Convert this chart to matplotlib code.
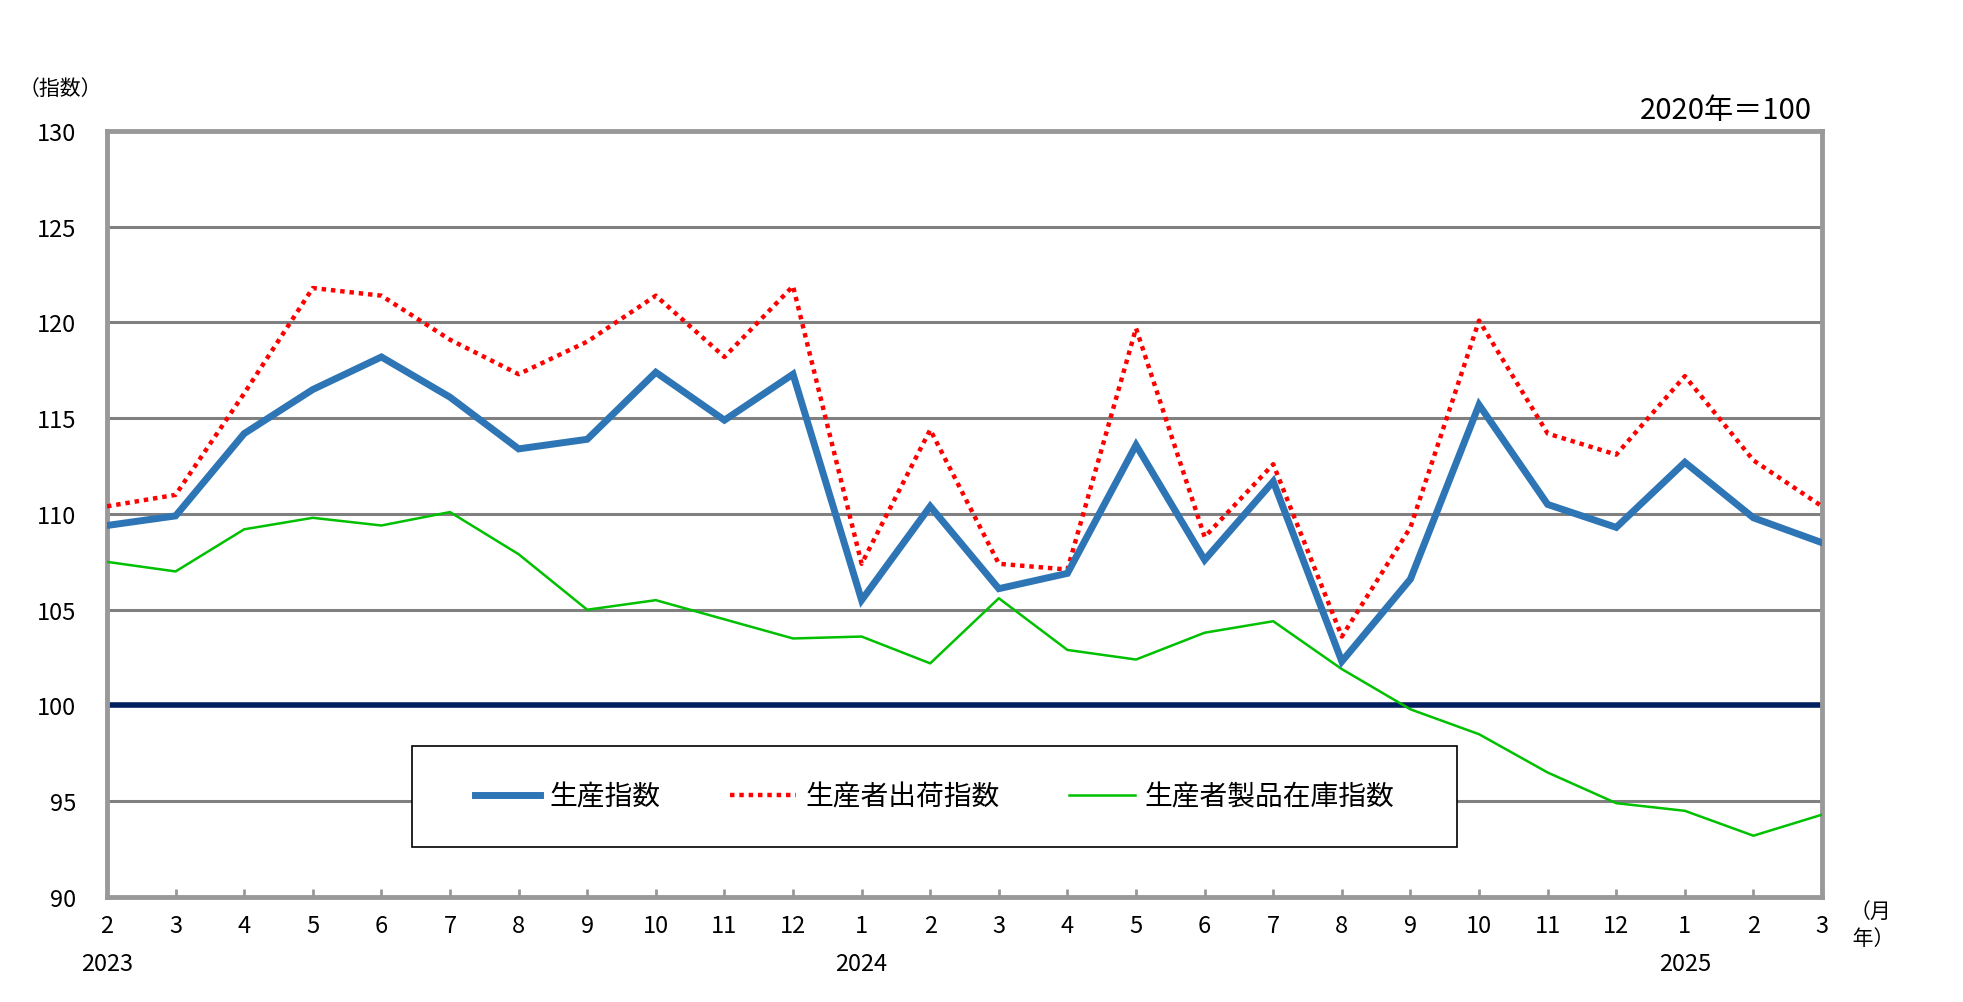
import numpy as np
import matplotlib.pyplot as plt
from matplotlib.patches import Rectangle

plt.rcParams['font.family'] = ['Noto Sans CJK JP', 'DejaVu Sans']

months = ['2', '3', '4', '5', '6', '7', '8', '9', '10', '11', '12',
          '1', '2', '3', '4', '5', '6', '7', '8', '9', '10', '11', '12',
          '1', '2', '3']
years = {0: '2023', 11: '2024', 23: '2025'}

production = [109.4, 109.9, 114.2, 116.5, 118.2, 116.1, 113.4, 113.9, 117.4, 114.9, 117.3,
              105.5, 110.4, 106.1, 106.9, 113.6, 107.6, 111.7, 102.3, 106.6, 115.7, 110.5, 109.3,
              112.7, 109.8, 108.5]
shipments = [110.4, 111.0, 116.3, 121.8, 121.4, 119.1, 117.3, 119.0, 121.4, 118.2, 121.9,
             107.4, 114.4, 107.4, 107.1, 119.7, 108.8, 112.6, 103.6, 109.3, 120.1, 114.2, 113.1,
             117.2, 112.8, 110.4]
inventory = [107.5, 107.0, 109.2, 109.8, 109.4, 110.1, 107.9, 105.0, 105.5, 104.5, 103.5,
             103.6, 102.2, 105.6, 102.9, 102.4, 103.8, 104.4, 101.9, 99.8, 98.5, 96.5, 94.9,
             94.5, 93.2, 94.3]

x = np.arange(len(months))

fig = plt.figure(figsize=(19.63, 10.03), dpi=100)
ax = fig.add_axes([0.0545, 0.1047, 0.8737, 0.7637])

for yv in range(95, 130, 5):
    ax.axhline(yv, color='#808080', lw=2.2, zorder=1)
ax.axhline(100, color='#002060', lw=4, zorder=2)

l1, = ax.plot(x, production, color='#2E75B6', lw=5, solid_joinstyle='miter', zorder=4, label='生産指数')
l2, = ax.plot(x, shipments, color='#FF0000', lw=3.2, linestyle=(0, (1, 1.1)),
              dash_capstyle='butt', zorder=3, label='生産者出荷指数')
l3, = ax.plot(x, inventory, color='#00C000', lw=1.8, zorder=3, label='生産者製品在庫指数')

ax.set_xlim(0, len(months) - 1)
ax.set_ylim(90, 130)
ax.set_yticks(range(90, 131, 5))
ax.set_xticks(x)
ax.set_xticklabels(months)
ax.tick_params(axis='x', direction='in', length=6, width=2, color='#999999',
               labelsize=17, pad=12)
ax.tick_params(axis='y', length=0, labelsize=17, pad=22)
for s in ax.spines.values():
    s.set_color('#999999')
    s.set_linewidth(3.5)

for i, yr in years.items():
    ax.text(x[i], -0.072, yr, transform=ax.get_xaxis_transform(), ha='center', va='top', fontsize=17)

fig.text(0.0305, 0.911, '（指数）', ha='center', va='center', fontsize=15)
fig.text(0.923, 0.889, '2020年＝100', ha='right', va='center', fontsize=21)
fig.text(0.953, 0.077, '（月\n 年）', ha='center', va='center', fontsize=15, linespacing=1.3)

box = Rectangle((0.178, 0.065), 0.609, 0.132, transform=ax.transAxes,
                facecolor='white', edgecolor='black', lw=1.2, zorder=5)
ax.add_patch(box)
leg = ax.legend(handles=[l1, l2, l3], loc='center', bbox_to_anchor=(0.4825, 0.131),
                ncol=3, frameon=False, fontsize=20, handlelength=2.35,
                columnspacing=2.5, handletextpad=0.36)
leg.set_zorder(6)

fig.savefig('out.png', dpi=100, facecolor='white')
